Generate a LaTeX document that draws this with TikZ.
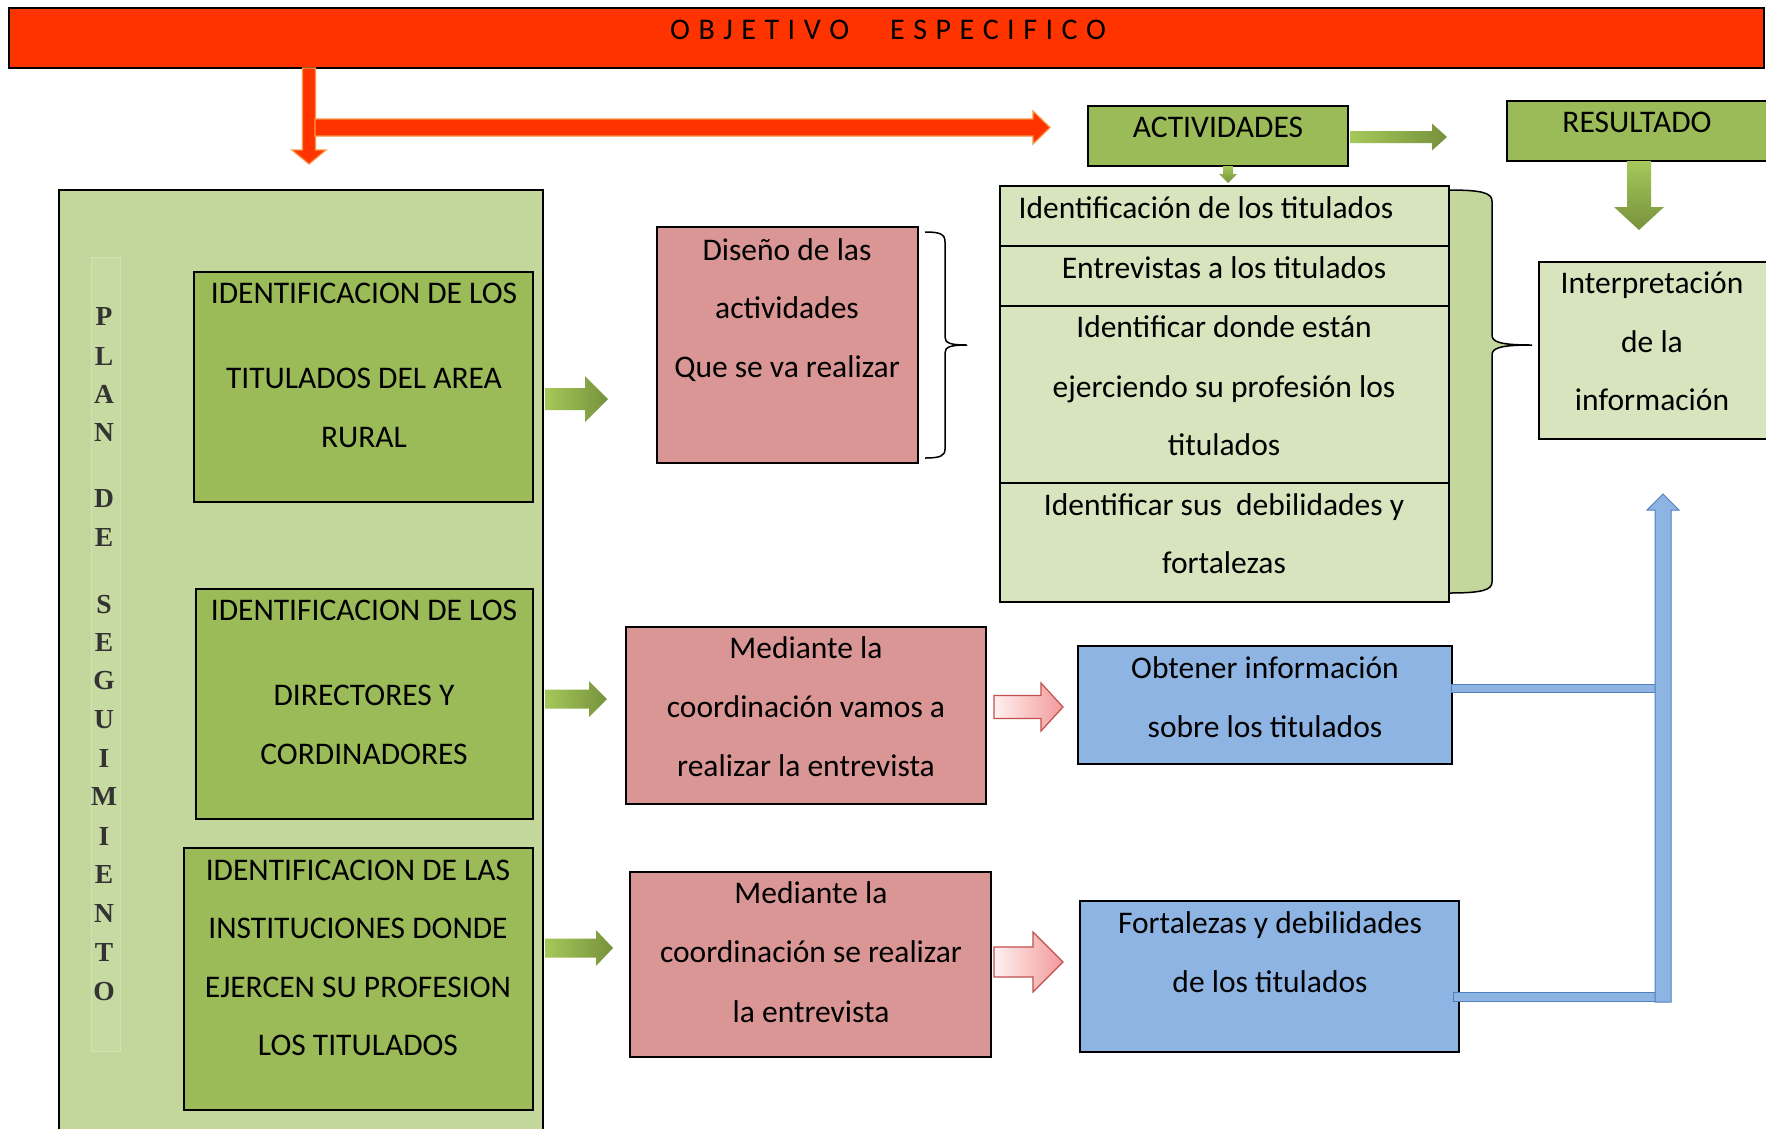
\documentclass[tikz,border=0pt]{standalone}
\usepackage{fontspec}
\setmainfont{Carlito}
\newfontfamily\plfont{Liberation Serif}
\usetikzlibrary{fit}
\definecolor{bannerc}{HTML}{FF3300}
\definecolor{orlite}{HTML}{F79646}
\definecolor{olive}{HTML}{9BBB59}
\definecolor{panelc}{HTML}{C3D69B}
\definecolor{stripc}{HTML}{C7DAA2}
\definecolor{stripl}{HTML}{D3E2B6}
\definecolor{lightg}{HTML}{D7E4BD}
\definecolor{pinkb}{HTML}{D99694}
\definecolor{blueb}{HTML}{8EB4E3}
\definecolor{blueline}{HTML}{4F81BD}
\definecolor{darkg}{HTML}{76923C}
\definecolor{brightg}{HTML}{A6C85A}
\definecolor{redline}{HTML}{C0504D}
\definecolor{pinklite}{HTML}{FFF0F0}
\definecolor{pinkdark}{HTML}{F29A9A}
\definecolor{lettergray}{HTML}{333333}
\newcommand\trk[1]{\trkaux#1\relax}
\def\trkaux#1{\ifx#1\relax\else#1\kern8.5pt\expandafter\trkaux\fi}
% horizontal block arrow: style, x start, x tip, y, shaft half, head half, head length
\newcommand\harrow[7]{\path[#1] (#2,#4-#5) -- (#3-#7,#4-#5) -- (#3-#7,#4-#6) -- (#3,#4) -- (#3-#7,#4+#6) -- (#3-#7,#4+#5) -- (#2,#4+#5) -- cycle;}
% downward block arrow: style, y start, y tip, x, shaft half, head half, head length
\newcommand\varrow[7]{\path[#1] (#4-#5,#2) -- (#4-#5,#3-#7) -- (#4-#6,#3-#7) -- (#4,#3) -- (#4+#6,#3-#7) -- (#4+#5,#3-#7) -- (#4+#5,#2) -- cycle;}
\begin{document}
\begin{tikzpicture}[x=1pt,y=-1pt,
  box/.style={draw=black, line width=2pt, inner sep=0pt, rectangle},
  gbox/.style={box, fill=olive},
  pbox/.style={box, fill=pinkb},
  bbox/.style={box, fill=blueb},
  lbox/.style={box, fill=lightg},
  txt/.style={font=\fontsize{31.5}{38}\selectfont, anchor=base, inner sep=0pt},
  letter/.style={font=\plfont\bfseries\fontsize{27.5}{30}\selectfont, text=lettergray, anchor=base, inner sep=0pt},
  orarrow/.style={fill=bannerc, draw=orlite, line width=1.2pt},
  grarrow/.style={left color=brightg, right color=darkg},
  grdown/.style={top color=brightg, bottom color=darkg},
  pkarrow/.style={left color=pinklite, right color=pinkdark, draw=redline, line width=1.2pt},
  bluebar/.style={fill=blueb, draw=blueline, line width=1pt}]
\useasboundingbox (0,0) rectangle (1766,1128);
\clip (0,0) rectangle (1766,1128);
\fill[white] (0,0) rectangle (1766,1128);

% banner
\node[box, fill=bannerc, line width=2.5pt, fit={(9,8) (1764,68)}] (banner) {};
\node[font=\fontsize{30}{36}\selectfont, anchor=base west, inner sep=0pt] (objA) at (670,39) {\trk{OBJETIVO}};
\node[font=\fontsize{30}{36}\selectfont, anchor=base west, inner sep=0pt] (objB) at (890,39) {\trk{ESPECIFICO}};

% orange arrows
\varrow{orarrow}{68}{164}{309}{6.5}{17}{14}
\harrow{orarrow}{315}{1050}{127.5}{8.5}{16.5}{17}

% left panel
\node[box, fill=panelc, fit={(59,190) (543,1150)}] (panel) {};
\node[fill=stripc, draw=stripl, line width=1pt, inner sep=0pt, fit={(91,257) (120,1051)}] (strip) {};
\foreach \l/\yy [count=\i] in {P/316,L/356,A/394,N/432,D/498,E/537,S/604,E/642,G/680,U/719,I/758,M/796,I/836,E/874,N/913,T/952,O/991}
  \node[letter] (pl\i) at (104,\yy+9) {\l};

% green boxes
\node[gbox, fit={(194,272) (533,502)}] (g1) {};
\node[txt] (g1a) at (364,303) {IDENTIFICACION DE LOS};
\node[txt] (g1b) at (364,388) {TITULADOS DEL AREA};
\node[txt] (g1c) at (364,447) {RURAL};

\node[gbox, fit={(196,589) (533,819)}] (g2) {};
\node[txt] (g2a) at (364,620) {IDENTIFICACION DE LOS};
\node[txt] (g2b) at (364,705) {DIRECTORES Y};
\node[txt] (g2c) at (364,764) {CORDINADORES};

\node[gbox, fit={(184,848) (533,1110)}] (g3) {};
\node[txt] (g3a) at (358,880) {IDENTIFICACION DE LAS};
\node[txt] (g3b) at (358,938) {INSTITUCIONES DONDE};
\node[txt] (g3c) at (358,997) {EJERCEN SU PROFESION};
\node[txt] (g3d) at (358,1055) {LOS TITULADOS};

% green arrows from panel
\harrow{grarrow}{545}{608}{399}{11}{23}{23}
\harrow{grarrow}{545}{607}{699}{9.5}{18}{18}
\harrow{grarrow}{545}{613}{948}{9.5}{18}{17}

% pink boxes
\node[pbox, fit={(657,227) (918,463)}] (p1) {};
\node[txt] (p1a) at (787,260) {Diseño de las};
\node[txt] (p1b) at (787,318) {actividades};
\node[txt] (p1c) at (787,377) {Que se va realizar};

\node[pbox, fit={(626,627) (986,804)}] (p2) {};
\node[txt] (p2a) at (806,658) {Mediante la};
\node[txt] (p2b) at (806,717) {coordinación vamos a};
\node[txt] (p2c) at (806,776) {realizar la entrevista};

\node[pbox, fit={(630,872) (991,1057)}] (p3) {};
\node[txt] (p3a) at (811,903) {Mediante la};
\node[txt] (p3b) at (811,962) {coordinación se realizar};
\node[txt] (p3c) at (811,1022) {la entrevista};

% thin brace right of pink box 1
\draw[line width=1.5pt] (925,232) .. controls (940,232) and (945,234) .. (945,242) -- (945,337)
  .. controls (945,343) and (950,345) .. (967,345) .. controls (950,345) and (945,347) .. (945,353)
  -- (945,449) .. controls (945,456) and (940,458) .. (925,458);

% pink arrows
\harrow{pkarrow}{994}{1063}{707}{11.5}{24}{22}
\harrow{pkarrow}{994}{1063}{962}{15}{30}{30}

% blue boxes
\node[bbox, fit={(1078,646) (1452,764)}] (b1) {};
\node[txt] (b1a) at (1265,678) {Obtener información};
\node[txt] (b1b) at (1265,737) {sobre los titulados};

\node[bbox, fit={(1080,901) (1459,1052)}] (b2) {};
\node[txt] (b2a) at (1270,933) {Fortalezas y debilidades};
\node[txt] (b2b) at (1270,992) {de los titulados};

% ACTIVIDADES / RESULTADO
\node[gbox, fit={(1088,106) (1348,166)}] (act) {};
\node[txt] (acttxt) at (1218,137) {ACTIVIDADES};
\node[gbox, fit={(1507,101) (1780,161)}] (res) {};
\node[txt] (restxt) at (1637,132) {RESULTADO};
\harrow{grarrow}{1350}{1447}{137}{6}{13.5}{15}
\varrow{grdown}{166}{183}{1228}{5}{9}{9}
\varrow{grdown}{161}{230}{1639}{12}{25}{23}

% filled brace right of activity list
\fill[panelc] (1440,190) -- (1449,190) .. controls (1482,190) and (1492,193) .. (1492,201) -- (1492,335)
  .. controls (1492,342) and (1500,345) .. (1532,345) .. controls (1500,345) and (1492,348) .. (1492,355)
  -- (1492,582) .. controls (1492,590) and (1482,593) .. (1449,593) -- (1440,593) -- cycle;
\draw[line width=1.5pt] (1449,190) .. controls (1482,190) and (1492,193) .. (1492,201) -- (1492,335)
  .. controls (1492,342) and (1500,345) .. (1532,345) .. controls (1500,345) and (1492,348) .. (1492,355)
  -- (1492,582) .. controls (1492,590) and (1482,593) .. (1449,593);

% activity list
\node[lbox, fit={(1000,186) (1449,246)}] (l1) {};
\node[lbox, fit={(1000,246) (1449,306)}] (l2) {};
\node[lbox, fit={(1000,306) (1449,483)}] (l3) {};
\node[lbox, fit={(1000,483) (1449,602)}] (l4) {};
\node[txt] (l1a) at (1206,218) {Identificación de los titulados};
\node[txt] (l2a) at (1224,278) {Entrevistas a los titulados};
\node[txt] (l3a) at (1224,337) {Identificar donde están};
\node[txt] (l3b) at (1224,397) {ejerciendo su profesión los};
\node[txt] (l3c) at (1224,455) {titulados};
\node[txt] (l4a) at (1224,515) {Identificar sus\ \ debilidades y};
\node[txt] (l4b) at (1224,573) {fortalezas};

% result box
\node[lbox, fit={(1539,262) (1780,439)}] (interp) {};
\node[txt] (ia) at (1652,293) {Interpretación};
\node[txt] (ib) at (1652,352) {de la};
\node[txt] (ic) at (1652,410) {información};

% blue connectors
\path[bluebar] (1451,684) rectangle (1657,692);
\path[bluebar] (1453,992.5) rectangle (1657,1001);
\path[bluebar] (1655,1002) -- (1655,510) -- (1647,510) -- (1663,494) -- (1679,510) -- (1671,510) -- (1671,1002) -- cycle;
\end{tikzpicture}
\end{document}
